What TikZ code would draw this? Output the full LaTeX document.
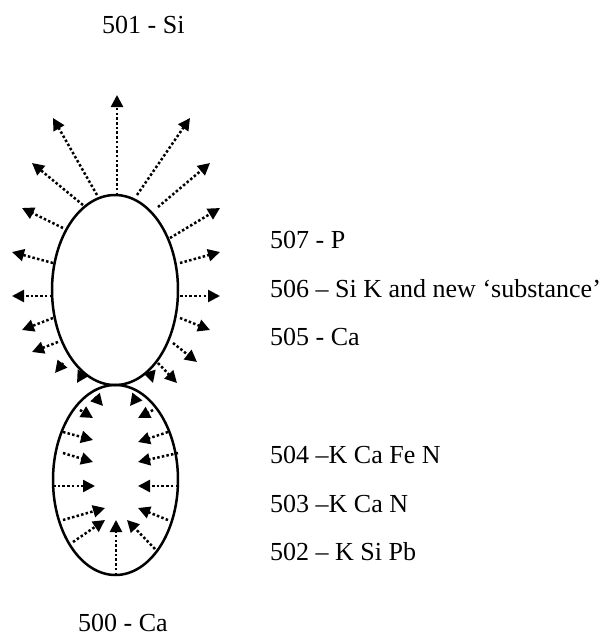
\documentclass[tikz,border=0pt]{standalone}
\usepackage{fontspec}
\setmainfont{Liberation Serif}
\usetikzlibrary{arrows.meta}
\begin{document}
\begin{tikzpicture}[x=1pt,y=-1pt,
  blob/.style={draw=black,line width=2.5pt},
  ray/.style={line width=2.5pt,dash pattern=on 2.5pt off 2.2pt,-{Triangle[length=12pt,width=12pt]}},
  lbl/.style={anchor=base west,inner sep=0pt,font=\fontsize{26}{31}\selectfont}]
\useasboundingbox (0,0) rectangle (608,637);
% bodies
\draw[blob] (115,290) ellipse [x radius=63,y radius=95];
\draw[blob] (115.5,480) ellipse [x radius=62.5,y radius=95];
% outward rays from upper body
\foreach \sx/\sy/\ex/\ey in {
  117/195/117/95,
  97/195/53/118, 83/205/32/163, 63/228/22/208, 53/263/12/252, 52/296/12/296,
  53/318/22/330, 58/342/32/352, 63/363/55/373, 83/373/77/383,
  137/195/190/118, 158/207/210/163, 170/238/220/208, 180/263/220/252, 180/296/220/296,
  180/318/210/330, 173/343/197/362, 158/363/177/383, 150/373/153/383}
  \draw[ray] (\sx,\sy) -- (\ex,\ey);
% inward rays in lower body
\foreach \sx/\sy/\ex/\ey in {
  95/397/103/406, 137/397/130/406,
  80/410/93/418, 153/410/138/418,
  63/432/93/440, 168/432/138/442,
  63/453/93/462, 178/453/138/462,
  53/486/95/486, 178/486/138/486,
  63/520/105/508, 168/520/138/508,
  73/542/105/520, 155/549/127/520,
  116/575/116/520}
  \draw[ray] (\sx,\sy) -- (\ex,\ey);
% labels
\node[lbl] (l501) at (102,33) {501 - Si};
\node[lbl] (l507) at (270,248) {507 - P};
\node[lbl] (l506) at (270,297) {506 – Si K and new ‘substance’};
\node[lbl] (l505) at (270,345) {505 - Ca};
\node[lbl] (l504) at (270,463) {504 –K Ca Fe N};
\node[lbl] (l503) at (270,512) {503 –K Ca N};
\node[lbl] (l502) at (270,560) {502 – K Si Pb};
\node[lbl] (l500) at (78,631) {500 - Ca};
\end{tikzpicture}
\end{document}
